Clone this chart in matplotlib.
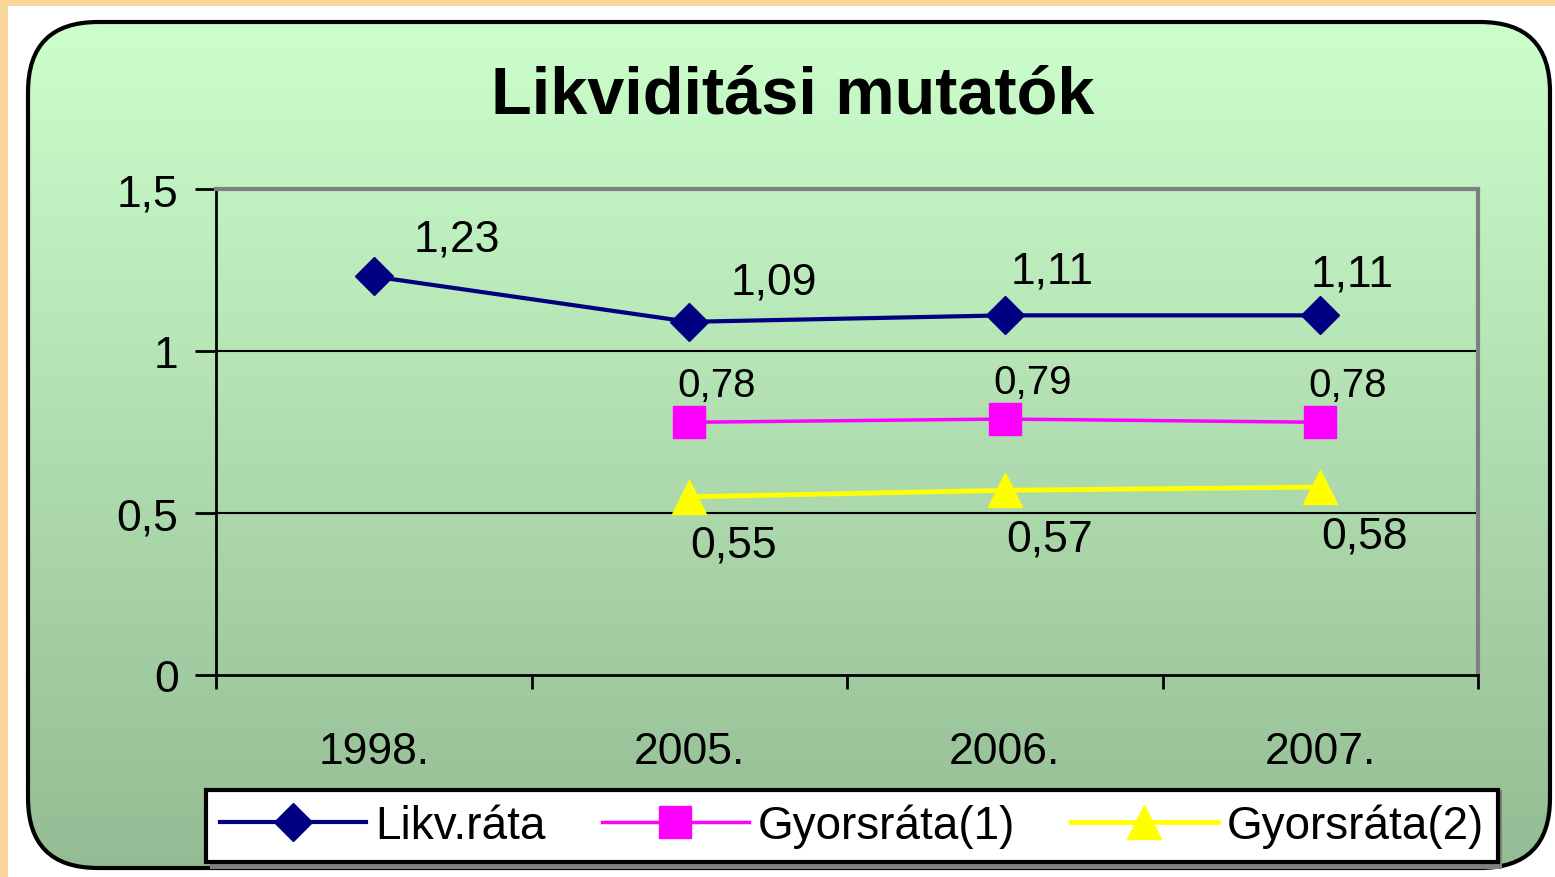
import numpy as np
import matplotlib
matplotlib.use("Agg")
import matplotlib.pyplot as plt
from matplotlib.patches import FancyBboxPatch, Rectangle

plt.rcParams['font.family'] = ['Liberation Sans', 'DejaVu Sans']

# Data
years = ['1998.', '2005.', '2006.', '2007.']
likv_rata = [1.23, 1.09, 1.11, 1.11]
gyors_1 = [None, 0.78, 0.79, 0.78]
gyors_2 = [None, 0.55, 0.57, 0.58]
series_names = ['Likv.ráta', 'Gyorsráta(1)', 'Gyorsráta(2)']
y_ticks = [0, 0.5, 1, 1.5]
y_tick_labels = ['0', '0,5', '1', '1,5']


def fmt(v):
    return f"{v:.2f}".replace('.', ',')


W, H = 1555, 878
fig = plt.figure(figsize=(W / 100, H / 100), dpi=100)
fig.patch.set_facecolor('#FAD59A')

# background layer in pixel coordinates
bg = fig.add_axes([0, 0, 1, 1])
bg.set_xlim(0, W)
bg.set_ylim(H, 0)
bg.axis('off')
bg.add_patch(Rectangle((8, 7), W, H, facecolor='white', edgecolor='none'))

box = FancyBboxPatch((28, 23), 1522, 846, boxstyle="round,pad=0,rounding_size=70",
                     facecolor='none', edgecolor='black', lw=3, zorder=3)
bg.add_patch(box)
top = np.array([204, 255, 204]) / 255
bot = np.array([148, 188, 148]) / 255
t = np.linspace(0, 1, 256)[:, None]
grad = (top * (1 - t) + bot * t)[:, None, :]
im = bg.imshow(grad, extent=[28, 1550, 869, 23], aspect='auto', zorder=1)
im.set_clip_path(box)

bg.text(793, 97, 'Likviditási mutatók', ha='center', va='center',
        fontsize=48, fontweight='bold')

# main chart
ax = fig.add_axes([216 / W, (H - 676) / H, 1262 / W, (676 - 190) / H])
ax.set_facecolor('none')
x = np.arange(len(years))

ax.plot(x, likv_rata, color='#000080', lw=3, marker='D', ms=19, zorder=4)
xg = x[1:]
ax.plot(xg, gyors_1[1:], color='#FF00FF', lw=2.5, marker='s', ms=23, zorder=4)
ax.plot(xg, gyors_2[1:], color='#FFFF00', lw=3.5, marker='^', ms=25, zorder=4)

fs = 32
lab_off = [(60, 27), (61, 29), (34, 32), (23, 30)]
for xi, v, o in zip(x, likv_rata, lab_off):
    ax.annotate(fmt(v), (xi, v), xytext=o, textcoords='offset points',
                ha='center', va='center', fontsize=fs)
for xi, v in zip(xg, gyors_1[1:]):
    ax.annotate(fmt(v), (xi, v), xytext=(20, 27), textcoords='offset points',
                ha='center', va='center', fontsize=fs - 3)
for xi, v in zip(xg, gyors_2[1:]):
    ax.annotate(fmt(v), (xi, v), xytext=(32, -35), textcoords='offset points',
                ha='center', va='center', fontsize=fs)

ax.set_xlim(-0.5, 3.5)
ax.set_ylim(0, 1.5)
ax.set_yticks(y_ticks)
ax.set_yticklabels(y_tick_labels, fontsize=fs)
ax.set_xticks(x)
ax.set_xticklabels(years, fontsize=fs)
ax.set_xticks(np.arange(-0.5, 4, 1), minor=True)
ax.tick_params(axis='x', which='major', length=0, pad=40)
ax.tick_params(axis='x', which='minor', length=10, width=2, direction='out')
ax.tick_params(axis='y', length=15, width=2, pad=12)
for yv in [0.5, 1]:
    ax.axhline(yv, color='black', lw=1.5, zorder=2)
for s in ['left', 'bottom']:
    ax.spines[s].set_color('black')
    ax.spines[s].set_linewidth(2)
for s in ['top', 'right']:
    ax.spines[s].set_color('#808080')
    ax.spines[s].set_linewidth(3)

# legend
bg.add_patch(Rectangle((210, 791), 1292, 79, facecolor='#808080', edgecolor='none', zorder=4))
leg = ax.legend(series_names, loc='center', ncol=3, mode='expand',
                bbox_to_anchor=(206 / W, (H - 866) / H, 1292 / W, 79 / H),
                bbox_transform=fig.transFigure, fontsize=fs + 1, handlelength=3.2,
                handletextpad=0.2, columnspacing=0.8, borderaxespad=0,
                borderpad=0.3, fancybox=False, framealpha=1, edgecolor='black')
leg.get_frame().set_linewidth(3)
leg.set_zorder(5)

fig.savefig('out.png', dpi=100, facecolor=fig.get_facecolor())
